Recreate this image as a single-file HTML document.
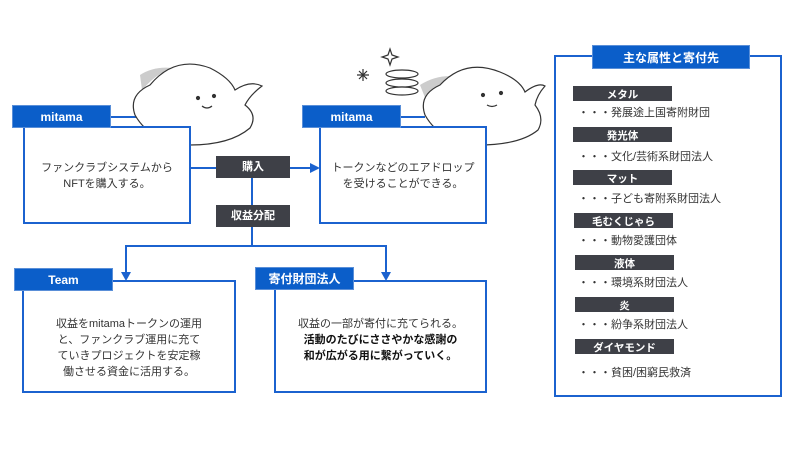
<!DOCTYPE html>
<html><head><meta charset="utf-8"><style>
body{margin:0;width:800px;height:450px;background:#fff;overflow:hidden;position:relative;font-family:"Liberation Sans","Noto Sans CJK JP",sans-serif}
.a{position:absolute;box-sizing:border-box}
.hd{background:#0b5ec9;color:#fff;font-weight:bold;font-size:12px;border:1px solid #5a8fd8;display:flex;align-items:center;justify-content:center}
.dk{background:#3e4047;color:#fff;font-weight:bold;font-size:11px;display:flex;align-items:center;justify-content:center;line-height:1}
.s{font-size:10.5px}
.s span{position:relative;top:1.5px}
.bx{border:2px solid #1b62cf;background:#fff}
.t{font-size:11px;color:#333;text-align:center;line-height:16px}
.it{font-size:11px;color:#333;position:absolute;left:578px;line-height:14px}
</style></head><body>
<svg class="a" style="left:0;top:0" width="800" height="450">
<g fill="none" stroke="#1b62cf" stroke-width="2">
<line x1="111" y1="117" x2="140" y2="117"/>
<line x1="401" y1="117" x2="425" y2="117"/>
<line x1="189" y1="140" x2="189" y2="168"/>
<line x1="189" y1="168" x2="216" y2="168"/>
<line x1="290" y1="168" x2="312" y2="168"/>
<line x1="252" y1="178" x2="252" y2="205"/>
<polyline points="252,227 252,246 126,246 126,274"/>
<polyline points="252,246 386,246 386,274"/>
</g>
<g fill="#1b62cf"><polygon points="310,163 320,168 310,173"/><polygon points="121,272 126,281 131,272"/><polygon points="381,272 386,281 391,272"/></g>
<g stroke="#333" stroke-width="1.2" fill="#fff">
<path d="M140,75 Q160,62 190,72 Q168,60 142,90 Z" fill="#ccc" stroke="none"/>
<path d="M135,115 Q128,95 150,85 Q175,55 210,68 Q230,78 235,90 Q250,80 262,86 Q250,95 245,105 Q258,115 250,128 Q230,145 190,145 Q150,142 135,115Z"/>
<circle cx="198" cy="98" r="1.5" fill="#333"/><circle cx="214" cy="96" r="1.5" fill="#333"/>
<path d="M202,106 Q207,110 212,106" fill="none"/>
<path d="M420,85 Q440,72 465,78 L430,110 Z" fill="#ccc" stroke="none"/>
<path d="M425,115 Q418,95 440,85 Q465,58 500,72 Q520,80 525,92 Q538,82 545,86 Q537,95 535,105 Q545,118 538,130 Q520,145 478,145 Q440,142 425,115Z"/>
<circle cx="483" cy="95" r="1.5" fill="#333"/><circle cx="501" cy="93" r="1.5" fill="#333"/>
<path d="M487,105 Q492,108 497,105" fill="none"/>
<ellipse cx="402" cy="74" rx="16" ry="4"/><ellipse cx="402" cy="83" rx="16" ry="4"/><ellipse cx="402" cy="91" rx="16" ry="4"/>
<path d="M388,55 l2,-6 l2,6 l6,2 l-6,2 l-2,6 l-2,-6 l-6,-2z"/>
<path d="M357,75 l12,0 M363,69 l0,12 M359,71 l8,8 M367,71 l-8,8"/>
</g>
</svg>
<div class="a bx" style="left:23px;top:126px;width:168px;height:98px"></div>
<div class="a hd" style="left:12px;top:105px;width:99px;height:23px">mitama</div>
<div class="a t" style="left:25px;top:160px;width:164px">ファンクラブシステムから<br>NFTを購入する。</div>
<div class="a bx" style="left:319px;top:126px;width:168px;height:98px"></div>
<div class="a hd" style="left:302px;top:105px;width:99px;height:23px">mitama</div>
<div class="a t" style="left:321px;top:160px;width:164px">トークンなどのエアドロップ<br>を受けることができる。</div>
<div class="a dk" style="left:216px;top:156px;width:74px;height:22px">購入</div>
<div class="a dk" style="left:216px;top:205px;width:74px;height:22px">収益分配</div>
<div class="a bx" style="left:22px;top:280px;width:214px;height:113px"></div>
<div class="a hd" style="left:14px;top:268px;width:99px;height:23px">Team</div>
<div class="a t" style="left:24px;top:316px;width:210px">収益をmitamaトークンの運用<br>と、ファンクラブ運用に充て<br>ていきプロジェクトを安定稼<br>働させる資金に活用する。</div>
<div class="a bx" style="left:274px;top:280px;width:213px;height:113px"></div>
<div class="a hd" style="left:255px;top:267px;width:99px;height:23px">寄付財団法人</div>
<div class="a t" style="left:276px;top:316px;width:209px">収益の一部が寄付に充てられる。<br><b style="color:#111">活動のたびにささやかな感謝の<br>和が広がる用に繋がっていく。</b></div>
<div class="a bx" style="left:554px;top:55px;width:228px;height:342px"></div>
<div class="a hd" style="left:592px;top:45px;width:158px;height:24px">主な属性と寄付先</div>
<div class="a dk s" style="left:573px;top:86px;width:99px;height:15px"><span>メタル</span></div>
<div class="it" style="top:106px">・・・発展途上国寄附財団</div>
<div class="a dk s" style="left:573px;top:127px;width:99px;height:15px"><span>発光体</span></div>
<div class="it" style="top:150px">・・・文化/芸術系財団法人</div>
<div class="a dk s" style="left:573px;top:170px;width:99px;height:15px"><span>マット</span></div>
<div class="it" style="top:192px">・・・子ども寄附系財団法人</div>
<div class="a dk s" style="left:574px;top:213px;width:99px;height:15px"><span>毛むくじゃら</span></div>
<div class="it" style="top:234px">・・・動物愛護団体</div>
<div class="a dk s" style="left:575px;top:255px;width:99px;height:15px"><span>液体</span></div>
<div class="it" style="top:276px">・・・環境系財団法人</div>
<div class="a dk s" style="left:575px;top:297px;width:99px;height:15px"><span>炎</span></div>
<div class="it" style="top:318px">・・・紛争系財団法人</div>
<div class="a dk s" style="left:575px;top:339px;width:99px;height:15px"><span>ダイヤモンド</span></div>
<div class="it" style="top:366px">・・・貧困/困窮民救済</div>
</body></html>
